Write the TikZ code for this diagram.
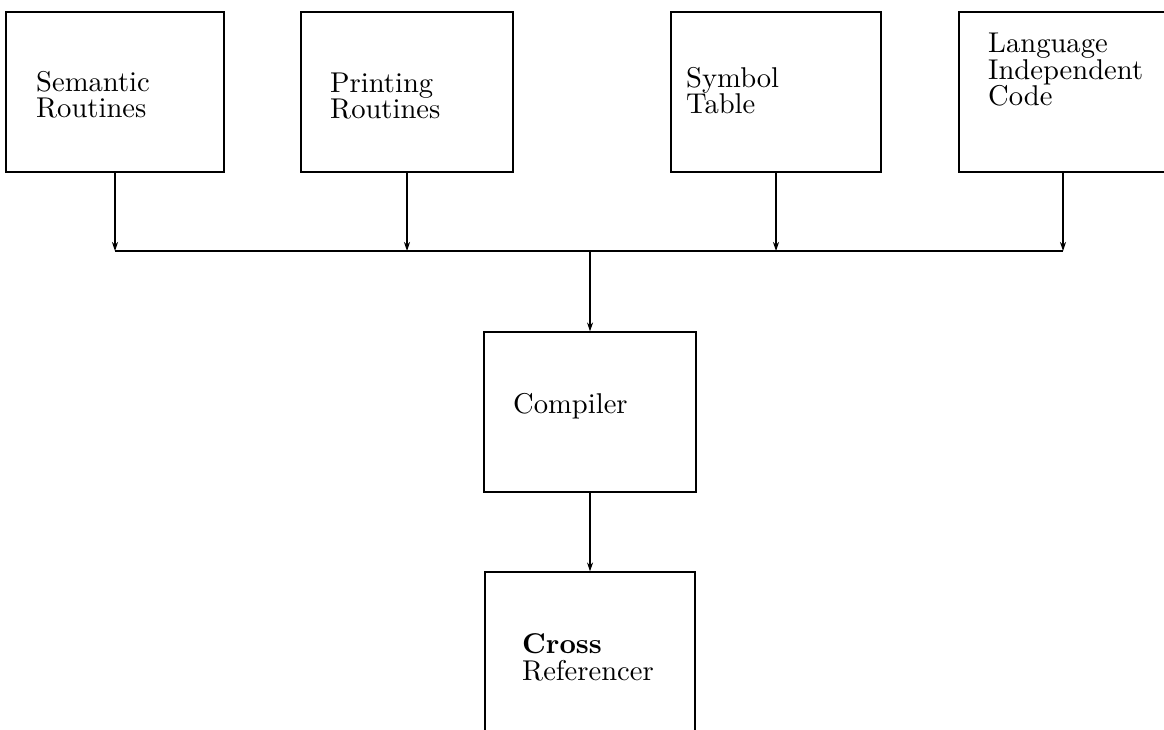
\documentclass[tikz,border=0pt]{standalone}
\usepackage{fontspec}
\setmainfont{lmroman10-regular.otf}[BoldFont=lmroman10-bold.otf]
\usetikzlibrary{arrows.meta}

\begin{document}
\begin{tikzpicture}[x=1pt, y=-1pt]

	\def\ytop{92}
	\def\ymid{412}
	\def\ylow{652}
	\def\ybus{251}
	\def\xmain{590}

	% Styles
	\tikzstyle{unit}=[draw, line width=1.1pt, minimum width=212pt, minimum height=160pt, inner sep=0pt]
	\tikzstyle{caption}=[anchor=base west, align=left, inner sep=0pt, font=\fontsize{28.6pt}{26.5pt}\selectfont]
	\tikzstyle{flow}=[-{Stealth[length=9pt, width=6pt]}, line width=1.1pt]
	\tikzstyle{busline}=[line width=1.1pt]

	\useasboundingbox (0,0) rectangle (1164,730);
	\clip (0,0) rectangle (1164,730);

	%== Input units ==========================================================
	\node[unit, minimum width=218pt] (semantic) at (115,\ytop) {};
	\node[caption] (semantictext) at (36,118) {Semantic\\Routines};

	\node[unit] (printing) at (407,\ytop) {};
	\node[caption] (printingtext) at (330,119) {Printing\\Routines};

	\node[unit, minimum width=210pt] (symbol) at (776,\ytop) {};
	\node[caption] (symboltext) at (686,114) {Symbol\\Table};

	\node[unit, minimum width=208pt] (langind) at (1063,\ytop) {};
	\node[caption] (langindtext) at (988,106) {Language\\Independent\\Code};

	%== Compiler and cross referencer ========================================
	\node[unit] (compiler) at (\xmain,\ymid) {};
	\node[caption] (compilertext) at (513,413) {Compiler};

	\node[unit, minimum width=210pt] (xref) at (\xmain,\ylow) {};
	\node[caption] (xreftext) at (522,680) {\textbf{Cross}\\Referencer};

	% Bus
	\coordinate (semjoin) at (semantic.south |- 0,\ybus);
	\coordinate (prtjoin) at (printing.south |- 0,\ybus);
	\coordinate (symjoin) at (symbol.south |- 0,\ybus);
	\coordinate (licjoin) at (langind.south |- 0,\ybus);
	\coordinate (compjoin) at (\xmain,\ybus);

	\draw[busline] (semjoin) -- (licjoin);

	\draw[flow] (semantic.south) -- (semjoin);
	\draw[flow] (printing.south) -- (prtjoin);
	\draw[flow] (symbol.south) -- (symjoin);
	\draw[flow] (langind.south) -- (licjoin);

	\draw[flow] (compjoin) -- (compiler.north);
	\draw[flow] (compiler.south) -- (xref.north);

\end{tikzpicture}
\end{document}
